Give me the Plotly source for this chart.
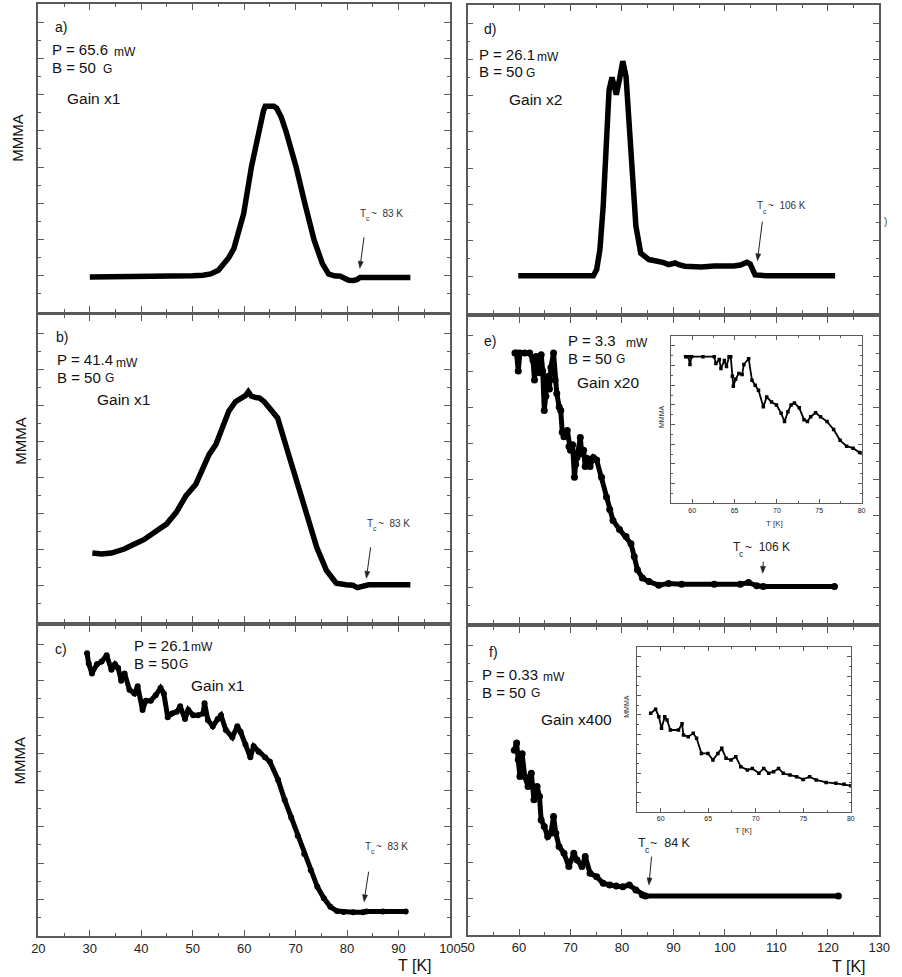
import math
import plotly.graph_objects as go

# ---------------- data ----------------
# a) P = 65.6 mW
a_T = [30, 35, 40, 45, 50, 52, 53.5, 55, 56, 57, 58, 58.4, 59.9, 61.4, 62.7, 63.75, 64.1, 65, 65.8, 66.3, 67.2, 68.1, 69.0, 70.1, 71.8, 73.6, 75.2, 76.4, 77.5, 78.7, 79.6, 80.3, 81.2, 81.9, 82.5, 85, 88, 92.3]
a_S = [1.93, 1.93, 1.95, 1.97, 2.0, 2.03, 2.1, 2.3, 2.6, 3.0, 3.5, 3.96, 5.43, 7.99, 9.84, 11.1, 11.35, 11.38, 11.35, 11.25, 10.76, 10.0, 9.1, 8.0, 5.98, 3.96, 2.67, 2.1, 2.0, 1.97, 1.85, 1.75, 1.74, 1.78, 1.9, 1.9, 1.9, 1.9]

# b) P = 41.4 mW
b_T = [30.5, 32.3, 34.2, 36.7, 38.6, 40.5, 43.0, 44.9, 46.8, 48.7, 50.6, 51.9, 53.2, 54.5, 55.7, 57.0, 58.3, 59.5, 60.3, 60.8, 61.4, 62.0, 63.0, 63.9, 65.2, 66.5, 68.4, 70.3, 72.2, 74.1, 76.0, 77.9, 79.8, 81.1, 82.0, 83.3, 84.2, 88, 92.3]
b_S = [3.82, 3.77, 3.82, 4.04, 4.3, 4.56, 5.05, 5.42, 6.07, 7.0, 7.63, 8.55, 9.28, 9.83, 10.75, 11.67, 12.2, 12.4, 12.55, 12.75, 12.5, 12.45, 12.4, 12.2, 11.8, 11.3, 9.5, 7.63, 5.8, 4.14, 2.85, 2.15, 2.06, 2.04, 1.9, 2.04, 2.06, 2.06, 2.06]

# c) P = 26.1 mW
c_T = [29.46, 29.78, 30.41, 31.37, 32.3, 33.27, 34.2, 34.9, 35.5, 36.1, 36.76, 37.7, 38.67, 39.3, 40.25, 40.9, 41.84, 42.8, 43.75, 44.38, 45.14, 45.97, 46.9, 47.56, 48.5, 49.14, 50.1, 51.05, 52.0, 52.3, 52.95, 53.9, 54.86, 55.5, 56.44, 57.7, 58.67, 59.3, 60.25, 61.2, 61.84, 62.8, 64.06, 65.0, 66.6, 67.87, 69.14, 70.4, 71.68, 72.95, 74.22, 75.49, 76.76, 78.03, 79.3, 81.2, 83.1, 83.75, 87, 91.4]
c_S = [15.5, 14.95, 14.4, 14.9, 15.05, 15.4, 14.6, 14.9, 14.7, 14.0, 14.4, 13.5, 13.3, 13.7, 12.4, 12.9, 12.9, 13.2, 13.6, 13.3, 12.0, 12.2, 12.3, 12.6, 11.9, 12.4, 12.1, 12.1, 12.2, 12.76, 11.85, 11.5, 11.9, 12.1, 11.3, 10.9, 11.5, 11.2, 10.5, 9.8, 10.4, 10.1, 9.8, 9.56, 8.56, 7.46, 6.5, 5.5, 4.5, 3.6, 2.7, 2.07, 1.6, 1.37, 1.32, 1.3, 1.3, 1.35, 1.35, 1.35]

# d) P = 26.1 mW
d_T = [59.84, 65, 70, 74.44, 75.08, 75.71, 76.35, 76.98, 77.49, 78.06, 78.5, 78.89, 79.52, 80.16, 80.79, 81.43, 82.06, 82.7, 83.65, 85.24, 86.2, 87.14, 88.1, 89.05, 90.32, 91.2, 92.22, 95.4, 97.94, 101.75, 103.0, 104.29, 104.92, 105.87, 108, 115, 121.43]
d_S = [2.06, 2.06, 2.06, 2.06, 2.4, 3.5, 5.9, 9.6, 12.3, 13.0, 12.6, 12.05, 12.9, 13.9, 13.05, 10.3, 7.2, 4.8, 3.3, 2.95, 2.9, 2.85, 2.78, 2.67, 2.76, 2.65, 2.58, 2.54, 2.6, 2.6, 2.65, 2.8, 2.7, 2.1, 2.06, 2.06, 2.06]

# e) P = 3.3 mW
e_T = [59.2, 59.5, 59.84, 60.16, 61.1, 62.06, 62.7, 63.0, 63.3, 63.65, 63.97, 64.3, 64.6, 64.9, 65.2, 65.56, 65.9, 66.19, 66.7, 67.0, 67.33, 67.8, 68.1, 68.4, 68.73, 69.37, 69.7, 70.0, 70.4, 70.76, 71.0, 71.27, 71.9, 72.2, 72.54, 72.85, 73.17, 73.8, 74.44, 75.08, 76.03, 76.98, 77.62, 78.25, 79.52, 80.79, 81.75, 82.38, 83.0, 83.97, 85.24, 87.14, 89.05, 91.59, 97.94, 103.0, 104.6, 106.2, 107.46, 121.3]
e_S = [15.0, 15.0, 14.0, 15.0, 15.0, 15.0, 14.6, 13.5, 14.8, 14.2, 13.9, 14.9, 14.0, 11.8, 12.6, 13.7, 13.0, 14.2, 15.0, 13.5, 12.75, 12.0, 11.8, 10.6, 10.35, 10.7, 9.8, 9.6, 9.9, 8.1, 8.8, 9.2, 10.3, 9.4, 9.6, 8.7, 9.15, 8.7, 9.2, 9.05, 8.1, 7.0, 6.3, 5.7, 5.2, 4.8, 4.4, 3.7, 2.96, 2.5, 2.3, 2.1, 2.2, 2.15, 2.15, 2.15, 2.25, 2.07, 2.03, 2.03]

# f) P = 0.33 mW
f_T = [59.08, 59.52, 59.84, 60.16, 60.6, 61.1, 61.75, 62.38, 62.9, 63.5, 63.97, 64.29, 64.9, 65.56, 66.19, 66.7, 67.14, 67.78, 68.73, 69.68, 70.63, 71.27, 72.22, 72.86, 73.8, 75.08, 76.35, 77.62, 78.89, 80.16, 81.43, 82.7, 83.97, 84.6, 122.06]
f_S = [10.2, 10.6, 9.67, 8.75, 10.0, 8.75, 8.2, 8.93, 7.46, 8.2, 7.64, 6.35, 5.99, 5.43, 5.62, 6.54, 5.62, 4.88, 4.51, 3.78, 4.51, 4.14, 3.78, 4.33, 3.41, 3.22, 2.85, 2.76, 2.7, 2.67, 2.76, 2.49, 2.21, 2.15, 2.15]

# inset of e)
ie_T = [59.23, 59.54, 59.74, 59.93, 61.28, 62.6, 62.8, 63.2, 63.4, 63.8, 64.05, 64.36, 64.55, 64.75, 64.86, 65.13, 65.5, 65.9, 66.1, 66.67, 67.06, 67.44, 67.83, 68.4, 68.8, 69.37, 69.95, 70.5, 70.9, 71.3, 71.68, 72.07, 72.64, 73.2, 73.6, 73.99, 74.57, 75.15, 75.92, 76.7, 77.46, 78.23, 79.0, 79.77, 80.0]
ie_S = [14.9, 14.9, 14.1, 14.9, 14.9, 14.9, 14.2, 14.6, 13.7, 14.5, 13.9, 14.9, 14.9, 12.9, 11.9, 12.6, 13.2, 13.1, 14.1, 14.7, 12.5, 12.0, 11.5, 9.8, 10.8, 10.3, 10.0, 9.15, 8.3, 9.3, 10.0, 10.2, 9.7, 8.5, 8.3, 8.8, 9.2, 8.8, 8.3, 7.5, 6.4, 5.8, 5.6, 5.15, 5.1]

# inset of f)
if_T = [58.95, 59.47, 59.81, 60.09, 60.43, 60.67, 61.02, 61.88, 62.25, 62.4, 62.9, 63.43, 63.78, 64.29, 64.98, 65.5, 66.02, 66.43, 66.88, 67.4, 67.9, 68.43, 69.12, 69.64, 70.33, 70.84, 71.36, 71.88, 72.4, 72.9, 73.6, 74.3, 74.98, 75.67, 76.36, 77.4, 78.43, 79.29, 80.0]
if_S = [10.17, 10.59, 9.83, 8.62, 9.83, 9.48, 8.45, 8.45, 9.1, 7.93, 7.76, 8.1, 7.59, 6.03, 6.03, 5.34, 6.03, 6.55, 5.52, 5.34, 5.69, 4.66, 4.31, 4.48, 3.97, 4.48, 3.97, 4.14, 4.48, 3.97, 3.79, 3.62, 3.34, 3.62, 3.28, 3.03, 2.93, 2.83, 2.69]

left_ticks = [20, 30, 40, 50, 60, 70, 80, 90, 100]
right_ticks = [50, 60, 70, 80, 90, 100, 110, 120, 130]
inset_ticks = [60, 65, 70, 75, 80]

# ---------------- layout helpers ----------------
W, H = 902, 977
FONT = "Arial, Liberation Sans, sans-serif"
FRAME = "#5a5a5a"

def dom_x(x0, x1):
    return [x0 / W, x1 / W]

def dom_y(y0, y1):
    return [1 - y1 / H, 1 - y0 / H]

fig = go.Figure()

panels = [
    ("", a_T, a_S, (32, 452, 4, 312), [20, 100], left_ticks, False, "main"),
    ("2", b_T, b_S, (32, 452, 315, 622), [20, 100], left_ticks, False, "main"),
    ("3", c_T, c_S, (32, 452, 626, 936), [20, 100], left_ticks, True, "band"),
    ("4", d_T, d_S, (470, 890, 5, 313), [50, 130], right_ticks, False, "main"),
    ("5", e_T, e_S, (470, 890, 317, 623), [50, 130], right_ticks, False, "noisy"),
    ("6", f_T, f_S, (470, 890, 627, 935), [50, 130], right_ticks, True, "noisy"),
    ("7", ie_T, ie_S, (677.5, 872, 336, 503.3), [57.5, 80], inset_ticks, True, "inset"),
    ("8", if_T, if_S, (642.7, 861, 647.3, 811.7), [57.5, 80], inset_ticks, True, "inset"),
]

for name, T, S, box, xr, tv, showlab, style in panels:
    x0, x1, y0, y1 = box
    inset = style == "inset"
    if inset:
        mlen, nlen, lw, fs = 4, 2, 1, 7
        xmin = 2.5
    else:
        mlen, nlen, lw, fs = 6, 3, 1.5, 13
        xmin = 5
    xa = dict(domain=dom_x(x0, x1), range=xr, anchor="y" + name,
              showline=True, linecolor=FRAME, linewidth=lw, mirror="ticks",
              ticks="inside", ticklen=mlen, tickwidth=1.2, tickcolor=FRAME,
              tickmode="array", tickvals=tv, ticktext=[str(v) for v in tv],
              minor=dict(dtick=xmin, tick0=0, ticks="inside", ticklen=nlen, tickwidth=1.1, tickcolor=FRAME),
              showgrid=False, zeroline=False, showticklabels=showlab,
              tickfont=dict(size=fs, family=FONT, color="#222"), fixedrange=True)
    ya = dict(domain=dom_y(y0, y1), range=[0, 17], anchor="x" + name,
              showline=True, linecolor=FRAME, linewidth=lw, mirror="ticks",
              ticks="inside", ticklen=mlen, tickwidth=1.2, tickcolor=FRAME,
              tick0=0, dtick=2,
              minor=dict(dtick=1, tick0=0, ticks="inside", ticklen=nlen, tickwidth=1.1, tickcolor=FRAME),
              showgrid=False, zeroline=False, showticklabels=False, fixedrange=True)
    fig.update_layout(**{"xaxis" + name: xa, "yaxis" + name: ya})

    if style == "main":
        tr = go.Scatter(x=T, y=S, mode="lines", line=dict(color="black", width=5.5),
                        hoverinfo="skip", showlegend=False)
    elif style == "band":
        tr = go.Scatter(x=T, y=S, mode="lines+markers", line=dict(color="black", width=5),
                        marker=dict(color="black", size=6),
                        hoverinfo="skip", showlegend=False)
    elif style == "noisy":
        tr = go.Scatter(x=T, y=S, mode="lines+markers", line=dict(color="black", width=5),
                        marker=dict(color="black", size=7, symbol="circle"),
                        hoverinfo="skip", showlegend=False)
    else:
        tr = go.Scatter(x=T, y=S, mode="lines+markers", line=dict(color="black", width=1.8),
                        marker=dict(color="black", size=3.5, symbol="square"),
                        hoverinfo="skip", showlegend=False)
    tr.update(xaxis="x" + name, yaxis="y" + name)
    fig.add_trace(tr)

ann = []
shapes = []
DX = -4  # compensates the annotation box padding for left-anchored texts

def txt(x, y, s, size, xanchor="left", angle=0, color="#111"):
    if xanchor == "left":
        x = x + DX
    ann.append(dict(x=x / W, y=1 - y / H, xref="paper", yref="paper", text=s,
                    showarrow=False, xanchor=xanchor, yanchor="middle", textangle=angle,
                    borderpad=0, font=dict(size=size, family=FONT, color=color)))

def arrow(hx, hy, tx, ty, color="#222"):
    dx, dy = hx - tx, hy - ty
    L = math.hypot(dx, dy)
    ux, uy = dx / L, dy / L
    hl, hw = 7.0, 2.6
    bx, by = hx - ux * hl, hy - uy * hl
    nx, ny = -uy, ux
    P = lambda x, y: f"{x / W:.5f},{1 - y / H:.5f}"
    shapes.append(dict(type="line", xref="paper", yref="paper",
                       x0=tx / W, y0=1 - ty / H, x1=bx / W, y1=1 - by / H,
                       line=dict(color=color, width=1)))
    shapes.append(dict(type="path", xref="paper", yref="paper",
                       path=f"M{P(hx, hy)} L{P(bx + nx * hw, by + ny * hw)} L{P(bx - nx * hw, by - ny * hw)} Z",
                       fillcolor=color, line=dict(color=color, width=0.5)))

PF = 15

def label(xp, yp, val, xm, ym, xg, yg, yb):
    # "P = val mW" and "B = 50 G" with their smaller unit glyphs
    txt(xp, yp, "P = " + val, PF)
    txt(xm, ym, "mW", 12)
    txt(xp, yb, "B = 50", PF)
    txt(xg, yg, "G", 12)

def tc(xt, yt, xc, yc, xr, rest, size, color="#333"):
    txt(xt, yt, "T", size, color=color)
    txt(xc, yc, "c", size * 0.7, color=color)
    txt(xr, yt, rest, size, color=color)

# panel a
txt(51.7, 27, "a)", 14)
label(49.3, 49.5, "65.6", 111.7, 52.3, 100.7, 69.2, 68)
txt(64.3, 98.3, "Gain x1", 15.5)
tc(363.3, 213.3, 369.3, 218.5, 374.5, "~  83 K", 10)
arrow(360, 268.3, 364.3, 237.3)
txt(11, 138, "MMMA", 15, xanchor="center", angle=-90)

# panel b
txt(53.3, 337.3, "b)", 14)
label(54, 359.5, "41.4", 114.3, 362.8, 102.7, 378.3, 377.7)
txt(95, 399.3, "Gain x1", 15.5)
tc(370, 523.3, 376, 528.5, 381.2, "~  83 K", 10)
arrow(366.7, 578.3, 371, 547.3)
txt(13, 441, "MMMA", 15, xanchor="center", angle=-90)

# panel c
txt(51.7, 649.3, "c)", 14)
label(132.7, 645.3, "26.1", 190.5, 646.7, 178.3, 663.8, 663)
txt(190.7, 685, "Gain x1", 15.5)
tc(368.3, 846.7, 374.3, 851.8, 379.5, "~  83 K", 10)
arrow(364.3, 901.7, 369, 871.7)
txt(13, 760.7, "MMMA", 15, xanchor="center", angle=-90)
txt(435, 965, "T [K]", 16, xanchor="right")

# panel d
txt(490, 29.3, "d)", 14)
label(484.3, 54, "26.1", 543.5, 56.7, 532.3, 72.5, 71.3)
txt(515, 99.3, "Gain x2", 15.5)
tc(768.3, 205.7, 774.3, 211, 779.5, "~  106 K", 10)
arrow(765.7, 260.7, 770.7, 221.7)
txt(896, 222, ")", 10, xanchor="center", color="#444")

# panel e
txt(490, 340.7, "e)", 14)
label(575.7, 340, "3.3", 635, 342.8, 624.3, 358.8, 358.7)
txt(584.3, 382.7, "Gain x20", 15.5)
tc(743.3, 547.3, 750.3, 554, 756.2, "~  106 K", 12, color="#222")
arrow(771, 573.3, 771.7, 561.7)
txt(668.3, 417, "MMMA", 7, xanchor="center", angle=-90, color="#333")
txt(783.5, 523.3, "T [K]", 8, xanchor="center", color="#333")

# panel f
txt(494.3, 651.7, "f)", 14)
label(487.3, 674, "0.33", 550.3, 676.7, 537.7, 692.8, 692.5)
txt(548.3, 719.3, "Gain x400", 15.5)
tc(646.7, 842.7, 653.5, 849.5, 659, "~  84 K", 12.5, color="#222")
arrow(655, 885, 657.7, 856.7)
txt(632.7, 706.7, "MMMA", 7, xanchor="center", angle=-90, color="#333")
txt(751.5, 830, "T [K]", 8, xanchor="center", color="#333")
txt(878, 966.7, "T [K]", 16, xanchor="right")

fig.update_layout(
    width=W, height=H, autosize=False,
    margin=dict(l=0, r=0, t=0, b=0, pad=0),
    paper_bgcolor="white", plot_bgcolor="white",
    showlegend=False, annotations=ann, shapes=shapes,
    font=dict(family=FONT, color="#222"),
)

fig.write_html(
    "out.html",
    config={"displayModeBar": False},
    post_script="document.body.style.margin='0';document.documentElement.style.overflow='hidden';",
)
